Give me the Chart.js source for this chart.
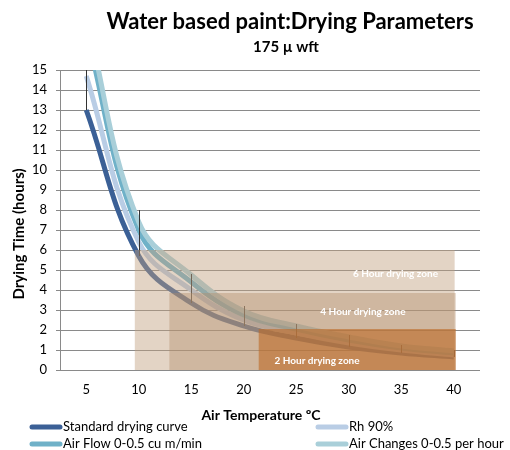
<!DOCTYPE html>
<html>
<head>
    <title>Water based paint: Drying Parameters</title>
    <script src="https://cdn.jsdelivr.net/npm/chart.js"></script>
    <style>
        body { margin: 0; background: #fff; }
        .container { width: 510px; height: 450px; }
    </style>
</head>
<body>
    <div class="container">
        <canvas id="chart" width="510" height="450"></canvas>
    </div>

    <script>
        // valores
        var temperaturas = [5, 10, 15, 20, 25, 30, 35, 40];
        var curvaPadrao = [13, 5.7, 3.35, 2.2, 1.6, 1.15, 0.85, 0.65];
        var rh90 = [14.7, 6.4, 4.0, 2.5, 1.85, 1.35, 1.0, 0.75];
        var fluxoAr = [16.9, 7.0, 4.4, 2.75, 2.05, 1.5, 1.1, 0.85];
        var trocasAr = [17.7, 7.4, 4.75, 2.95, 2.2, 1.65, 1.2, 0.95];
        var erroTopo = [15.5, 8.0, 4.8, 3.2, 2.3, 1.75, 1.25, 1.0];
        var nomesSeries = ['Standard drying curve', 'Rh 90%', 'Air Flow 0-0.5 cu m/min', 'Air Changes 0-0.5 per hour'];

        // zonas de secagem
        var nomesZonas = ['6 Hour drying zone', '4 Hour drying zone', '2 Hour drying zone'];
        var zonaInicio = [9.6, 12.9, 21.4];
        var zonaFim = [40.1, 40.2, 40.2];
        var zonaTopo = [6, 3.85, 2.05];

        var ticksX = [5, 10, 15, 20, 25, 30, 35, 40];

        var FONTE = 'Lato, "Liberation Sans", sans-serif';
        var coresSeries = ['#3b6096', '#b9cde5', '#6fb1c8', '#a9cfd9'];
        var coresZonas = ['rgba(193,159,126,0.45)', 'rgba(177,140,105,0.4)', 'rgba(189,105,37,0.6)'];

        function pontos(valores) {
            return temperaturas.map(function(t, i) {
                return { x: t, y: valores[i] };
            });
        }

        var datasets = [curvaPadrao, rh90, fluxoAr, trocasAr].map(function(valores, i) {
            return {
                label: nomesSeries[i],
                data: pontos(valores),
                borderColor: coresSeries[i],
                borderWidth: 5,
                pointRadius: 0,
                tension: 0.4,
                fill: false,
                order: 13 - i
            };
        });

        nomesZonas.forEach(function(nome, i) {
            datasets.push({
                label: nome,
                data: [{ x: zonaInicio[i], y: zonaTopo[i] }, { x: zonaFim[i], y: zonaTopo[i] }],
                borderColor: 'transparent',
                borderWidth: 0,
                backgroundColor: coresZonas[i],
                pointRadius: 0,
                tension: 0,
                fill: 'origin',
                order: 3 - i
            });
        });

        // barras de erro desenhadas depois da última curva (ficam por baixo das zonas)
        var barrasErro = {
            id: 'barrasErro',
            afterDatasetDraw: function(chart, args) {
                if (args.index !== 3) return;
                var ctx = chart.ctx, xs = chart.scales.x, ys = chart.scales.y, area = chart.chartArea;
                ctx.save();
                ctx.beginPath();
                ctx.rect(area.left, area.top, area.right - area.left, area.bottom - area.top);
                ctx.clip();
                ctx.strokeStyle = '#333';
                ctx.lineWidth = 1;
                temperaturas.forEach(function(t, i) {
                    var x = Math.round(xs.getPixelForValue(t)) + 0.5;
                    ctx.beginPath();
                    ctx.moveTo(x, ys.getPixelForValue(curvaPadrao[i]));
                    ctx.lineTo(x, ys.getPixelForValue(erroTopo[i]));
                    ctx.stroke();
                });
                ctx.restore();
            }
        };

        var textos = {
            id: 'textos',
            afterDraw: function(chart) {
                var ctx = chart.ctx, xs = chart.scales.x, ys = chart.scales.y;
                ctx.save();
                ctx.fillStyle = '#000';
                ctx.textAlign = 'center';
                ctx.textBaseline = 'middle';
                ctx.font = 'bold 22px ' + FONTE;
                ctx.fillText('Water based paint:Drying Parameters', 290, 22);
                ctx.font = 'bold 15px ' + FONTE;
                ctx.fillText('175 \u00b5 wft', 286, 47);

                ctx.font = 'bold 14px ' + FONTE;
                ctx.fillText('Air Temperature \u00baC', 261, 415);
                ctx.save();
                ctx.font = 'bold 15px ' + FONTE;
                ctx.translate(19, 234);
                ctx.rotate(-Math.PI / 2);
                ctx.fillText('Drying Time (hours)', 0, 0);
                ctx.restore();

                // rótulos das zonas
                var posZonas = [[34.45, 4.8], [31.35, 2.9], [26.98, 0.45]];
                ctx.fillStyle = '#fff';
                ctx.font = 'bold 10px ' + FONTE;
                nomesZonas.forEach(function(nome, i) {
                    ctx.fillText(nome, xs.getPixelForValue(posZonas[i][0]), ys.getPixelForValue(posZonas[i][1]));
                });

                // legenda em duas colunas
                var colunas = [30, 316], linhas = [427, 444];
                ctx.font = '13px ' + FONTE;
                ctx.textAlign = 'left';
                ctx.lineCap = 'round';
                ctx.lineWidth = 5;
                nomesSeries.forEach(function(nome, i) {
                    var x = colunas[i % 2], y = linhas[Math.floor(i / 2)];
                    ctx.strokeStyle = coresSeries[i];
                    ctx.beginPath();
                    ctx.moveTo(x + 2, y);
                    ctx.lineTo(x + 30, y);
                    ctx.stroke();
                    ctx.fillStyle = '#000';
                    ctx.fillText(nome, x + 33, y);
                });
                ctx.restore();
            }
        };

        var ctx = document.getElementById('chart').getContext('2d');
        var chart = new Chart(ctx, {
            type: 'line',
            data: { datasets: datasets },
            options: {
                responsive: false,
                animation: false,
                layout: { padding: { left: 20, right: 30, top: 70, bottom: 0 } },
                plugins: {
                    legend: { display: false },
                    title: { display: false },
                    tooltip: { enabled: false }
                },
                scales: {
                    x: {
                        type: 'linear',
                        min: 2.5,
                        max: 42.5,
                        afterBuildTicks: function(scale) {
                            scale.ticks = ticksX.map(function(v) { return { value: v }; });
                        },
                        afterFit: function(scale) { scale.height = 80; },
                        grid: { display: false, drawTicks: false },
                        border: { display: false },
                        ticks: { padding: 12, color: '#000', font: { family: FONTE, size: 13 }, maxRotation: 0 }
                    },
                    y: {
                        min: 0,
                        max: 15,
                        afterFit: function(scale) { scale.width = 40; },
                        grid: { color: '#8a8a8a', tickLength: 4 },
                        border: { color: '#8a8a8a' },
                        ticks: { stepSize: 1, padding: 9, color: '#000', font: { family: FONTE, size: 13 } }
                    }
                }
            },
            plugins: [barrasErro, textos]
        });
    </script>
</body>
</html>
